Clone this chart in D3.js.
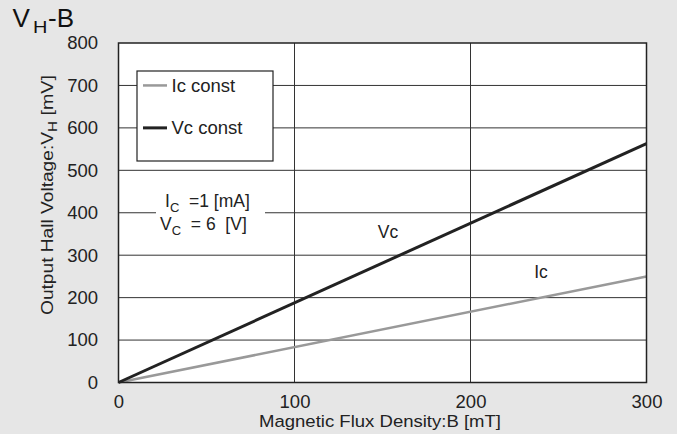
<!DOCTYPE html>
<html><head><meta charset="utf-8">
<script src="https://cdn.jsdelivr.net/npm/d3@7"></script>
<style>body{margin:0;background:#e6e6e6;}svg{display:block;font-family:"Liberation Sans",Arial,sans-serif;}</style>
</head><body><svg id="c" width="677" height="434"></svg>
<script>
const fluxB = [0, 300];
const vcConst = [0, 563];
const icConst = [0, 250];
const xTicks = [0, 100, 200, 300];
const yTicks = [0, 100, 200, 300, 400, 500, 600, 700, 800];
const seriesNames = ["Ic const", "Vc const"];

const svg = d3.select("#c");
svg.append("rect").attr("width",677).attr("height",434).attr("fill","#e6e6e6");
const x = d3.scaleLinear().domain([0,300]).range([118.5,646.5]);
const y = d3.scaleLinear().domain([0,800]).range([382.5,43]);

svg.append("rect").attr("x",x(0)).attr("y",y(800)).attr("width",x(300)-x(0)).attr("height",y(0)-y(800)).attr("fill","#fff");
// grid
svg.append("g").selectAll("line").data(yTicks.filter(d=>d>0&&d<800)).join("line")
  .attr("x1",x(0)).attr("x2",x(300)).attr("y1",d=>y(d)).attr("y2",d=>y(d)).attr("stroke","#333").attr("stroke-width",1);
svg.append("g").selectAll("line").data(xTicks.filter(d=>d>0&&d<300)).join("line")
  .attr("y1",y(0)).attr("y2",y(800)).attr("x1",d=>x(d)).attr("x2",d=>x(d)).attr("stroke","#333").attr("stroke-width",1);

// legend box
svg.append("rect").attr("x",137).attr("y",71).attr("width",136).attr("height",90).attr("fill","#fff").attr("stroke","#222").attr("stroke-width",1.2);
const lg = [{n:seriesNames[0],c:"#999",v:700,w:2.5},{n:seriesNames[1],c:"#222",v:600,w:3}];
lg.forEach(d=>{
  svg.append("line").attr("x1",143).attr("x2",167).attr("y1",y(d.v)).attr("y2",y(d.v)).attr("stroke",d.c).attr("stroke-width",d.w);
  svg.append("text").attr("x",171.5).attr("y",y(d.v)+6.5).attr("font-size",18.5).attr("fill","#222").text(d.n);
});
// annotation box
svg.append("rect").attr("x",156).attr("y",190).attr("width",109).attr("height",46).attr("fill","#fff");
const a1 = svg.append("text").attr("x",165).attr("y",206.5).attr("font-size",17.5).attr("fill","#222");
a1.append("tspan").text("I");
a1.append("tspan").attr("dy",5).attr("font-size",13).text("C");
a1.append("tspan").attr("dy",-5).text("\u00a0 =1 [mA]");
const a2 = svg.append("text").attr("x",160).attr("y",229.5).attr("font-size",17.5).attr("fill","#222");
a2.append("tspan").text("V");
a2.append("tspan").attr("dy",5).attr("font-size",13).text("C");
a2.append("tspan").attr("dy",-5).text("\u00a0 = 6\u00a0 [V]");

// series
const line = d3.line().x(d=>x(d[0])).y(d=>y(d[1]));
svg.append("path").datum(fluxB.map((b,i)=>[b,icConst[i]])).attr("d",line).attr("fill","none").attr("stroke","#999").attr("stroke-width",2.5);
svg.append("path").datum(fluxB.map((b,i)=>[b,vcConst[i]])).attr("d",line).attr("fill","none").attr("stroke","#222").attr("stroke-width",3);
svg.append("text").attr("x",388).attr("y",238).attr("font-size",17.5).attr("text-anchor","middle").attr("fill","#222").text("Vc");
svg.append("text").attr("x",541).attr("y",278).attr("font-size",17.5).attr("text-anchor","middle").attr("fill","#222").text("Ic");

// frame
svg.append("rect").attr("x",x(0)).attr("y",y(800)).attr("width",x(300)-x(0)).attr("height",y(0)-y(800)).attr("fill","none").attr("stroke","#222").attr("stroke-width",1.5);

// axes
const xa = svg.append("g").attr("transform",`translate(0,${y(0)})`).call(d3.axisBottom(x).tickValues(xTicks).tickSize(0).tickPadding(12));
xa.select(".domain").remove();
xa.selectAll("text").attr("font-size",18.5).attr("fill","#222").attr("font-family","Liberation Sans, Arial, sans-serif");
const ya = svg.append("g").attr("transform",`translate(98,0)`).call(d3.axisLeft(y).tickValues(yTicks).tickSize(0).tickPadding(0));
ya.select(".domain").remove();
ya.selectAll("text").attr("font-size",18.5).attr("fill","#222").attr("font-family","Liberation Sans, Arial, sans-serif");

svg.append("text").attr("x",259).attr("y",426.5).attr("font-size",16.3).attr("fill","#222")
  .attr("textLength",242).attr("lengthAdjust","spacingAndGlyphs").text("Magnetic Flux Density:B [mT]");
const yl = svg.append("text").attr("transform","translate(53.3,315) rotate(-90)").attr("font-size",16.3).attr("fill","#222");
yl.append("tspan").text("Output Hall Voltage:V").attr("textLength",183).attr("lengthAdjust","spacingAndGlyphs");
yl.append("tspan").attr("dy",4).attr("font-size",12).text("H").attr("textLength",11).attr("lengthAdjust","spacingAndGlyphs");
yl.append("tspan").attr("dy",-4).text(" [mV]").attr("textLength",46).attr("lengthAdjust","spacingAndGlyphs");

const tg = svg.append("g").attr("fill","#111");
tg.append("text").attr("x",12.5).attr("y",27).attr("font-size",26).text("V");
tg.append("text").attr("x",33).attr("y",32.7).attr("font-size",16).attr("textLength",14.4).attr("lengthAdjust","spacingAndGlyphs").text("H");
tg.append("text").attr("x",48).attr("y",27).attr("font-size",26).text("-B");
</script></body></html>
